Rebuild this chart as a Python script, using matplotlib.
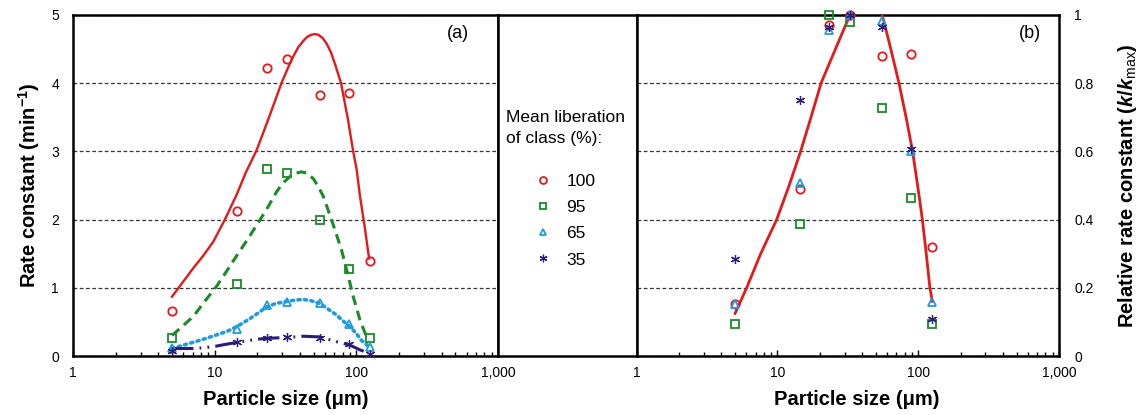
import matplotlib
matplotlib.use("Agg")
import matplotlib.pyplot as plt
import numpy as np
from matplotlib.lines import Line2D
from matplotlib.ticker import FixedLocator, FuncFormatter, LogLocator, NullFormatter

plt.rcParams["font.family"] = ["Liberation Sans", "DejaVu Sans"]
plt.rcParams["mathtext.fontset"] = "custom"
plt.rcParams["mathtext.rm"] = "Liberation Sans"
plt.rcParams["mathtext.it"] = "Liberation Sans:italic"
plt.rcParams["mathtext.bf"] = "Liberation Sans:bold"
try:
    plt.rcParams["mathtext.bfit"] = "Liberation Sans:italic:bold"
except KeyError:
    pass

# ---- measured flotation rate constants (min^-1) per size class ----
particle_size = [5.0, 14.4, 23.3, 32.6, 55.7, 89.0, 124.5]
liberation_classes = ["100", "95", "65", "35"]
k_100 = [0.665, 2.13, 4.23, 4.355, 3.83, 3.86, 1.39]
k_95 = [0.26, 1.06, 2.74, 2.68, 1.99, 1.27, 0.26]
k_65 = [0.12, 0.40, 0.755, 0.79, 0.775, 0.475, 0.125]
k_35 = [0.08, 0.21, 0.27, 0.28, 0.27, 0.17, 0.03]

# ---- fitted trend curves, panel (a) ----
fit100_x = [5, 7.07, 8.3, 9.8, 11.8, 14.4, 16.5, 19.8, 24, 29.6, 33, 35.8, 39, 42.2, 45,
            48, 51, 54, 58, 61.7, 66, 70.5, 78, 87.4, 95, 100.6, 106, 115, 123]
fit100_y = [0.87, 1.29, 1.47, 1.68, 2.0, 2.38, 2.68, 3.02, 3.48, 4.0, 4.23, 4.39, 4.53, 4.62,
            4.68, 4.71, 4.72, 4.71, 4.66, 4.58, 4.46, 4.29, 4.0, 3.46, 3.0, 2.73, 2.35, 1.87,
            1.43]
fit95_x = [5, 7.07, 8.5, 10.3, 12.2, 14.4, 17.2, 20.8, 24, 27.4, 30.5, 33.9, 37.5, 41, 45,
           49.7, 54, 58.5, 63, 67, 70.6, 78.7, 87.5, 95.1, 106, 118, 123]
fit95_y = [0.30, 0.58, 0.80, 1.02, 1.25, 1.48, 1.72, 1.99, 2.2, 2.41, 2.54, 2.63, 2.68, 2.70,
           2.68, 2.60, 2.48, 2.34, 2.15, 1.99, 1.85, 1.55, 1.18, 0.87, 0.53, 0.28, 0.23]
fit65_x = [5, 7.86, 10, 12.2, 14.3, 17.5, 20.9, 23.3, 27, 32.3, 37, 42.3, 48, 55.3, 63,
           72.6, 80, 90, 100, 108.7, 118, 124]
fit65_y = [0.11, 0.23, 0.30, 0.36, 0.43, 0.54, 0.65, 0.72, 0.77, 0.80, 0.82, 0.83, 0.81,
           0.77, 0.69, 0.60, 0.52, 0.43, 0.33, 0.23, 0.17, 0.11]
fit35_x = [5, 6.9, 8.3, 10, 11.2, 14.3, 19.8, 23.3, 32.3, 42.3, 55.3, 72.6, 90, 106, 124]
fit35_y = [0.11, 0.11, 0.12, 0.14, 0.16, 0.20, 0.245, 0.26, 0.27, 0.29, 0.28, 0.21, 0.16,
           0.09, 0.04]

# ---- fitted trend curve, panel (b) (k/kmax) ----
fit_rel_x = [5, 6.04, 7.6, 9.87, 12.1, 14.6, 17.3, 20.4, 25.8, 32.7, 38, 44, 50, 55.5,
             63, 73, 82, 91.2, 99, 107, 114, 121, 126]
fit_rel_y = [0.125, 0.2, 0.3, 0.4, 0.5, 0.6, 0.7, 0.8, 0.9, 1.0, 1.04, 1.05, 1.03, 1.0,
             0.91, 0.8, 0.7, 0.6, 0.5, 0.4, 0.3, 0.2, 0.16]

x_ticks = [1, 10, 100, 1000]
k_ticks = [0, 1, 2, 3, 4, 5]
rel_ticks = [0, 0.2, 0.4, 0.6, 0.8, 1.0]

RED = "#e3191c"
GREEN = "#1a8a2a"
BLUE = "#1f9ce0"
PURPLE = "#2b1c7a"
STAR = (6, 2, 0)

series = [
    (k_100, "o", RED, fit100_x, fit100_y, "-", 1.7),
    (k_95, "s", GREEN, fit95_x, fit95_y, (0, (3.2, 2.0)), 2.2),
    (k_65, "^", BLUE, fit65_x, fit65_y, (0, (0.6, 1.2)), 2.6),
    (k_35, STAR, PURPLE, fit35_x, fit35_y, (0, (7, 2, 0.6, 2, 0.6, 2)), 2.2),
]

W, H = 1140, 415
fig = plt.figure(figsize=(W / 100, H / 100), dpi=100)
x0, x1, xm, x2, x3 = 73, 498, 498, 636.7, 1059
yt, yb = 15, 356
ax_a = fig.add_axes([x0 / W, 1 - yb / H, (x1 - x0) / W, (yb - yt) / H])
ax_m = fig.add_axes([xm / W, 1 - yb / H, (x2 - xm) / W, (yb - yt) / H])
ax_b = fig.add_axes([x2 / W, 1 - yb / H, (x3 - x2) / W, (yb - yt) / H])

SPINE_W = 1.8
GRID_KW = dict(color="#333333", linestyle=(0, (3, 2)), linewidth=0.9)


def marker_kw(mk, col, size=6):
    return dict(linestyle="none", marker=mk, markersize=size + (0.5 if mk == STAR else 0),
                markerfacecolor="none", markeredgecolor=col,
                markeredgewidth=0.9 if mk == STAR else 1.3)


def style_xaxis(ax, label_x):
    ax.set_xscale("log")
    ax.set_xlim(1, 1000)
    ax.xaxis.set_major_locator(FixedLocator(x_ticks))
    ax.xaxis.set_minor_locator(LogLocator(base=10, subs=np.arange(2, 10)))
    ax.xaxis.set_minor_formatter(NullFormatter())
    ax.xaxis.set_major_formatter(FuncFormatter(lambda v, p: f"{v:,.0f}"))
    ax.tick_params(axis="x", which="major", direction="in", length=4, width=1,
                   labelsize=10, pad=7, top=False)
    ax.tick_params(axis="x", which="minor", direction="in", length=3, width=1, top=False)
    for s in ax.spines.values():
        s.set_linewidth(SPINE_W)
    ax.set_xlabel("Particle size (\u03bcm)", fontsize=14.5, fontweight="bold")
    ax.xaxis.set_label_coords(label_x, -0.1)


# ---- panel (a): absolute rate constants ----
for k, mk, col, fx, fy, ls, lw in series:
    ax_a.plot(fx, fy, color=col, linestyle=ls, linewidth=lw, zorder=3,
              dash_capstyle="round" if col == BLUE else "butt")
    ax_a.plot(particle_size, k, zorder=4, **marker_kw(mk, col))
style_xaxis(ax_a, 0.5)
ax_a.set_ylim(0, 5)
ax_a.yaxis.set_major_locator(FixedLocator(k_ticks))
ax_a.tick_params(axis="y", length=0, labelsize=10, pad=10)
ax_a.grid(axis="y", **GRID_KW)
ax_a.set_axisbelow(True)
ax_a.set_ylabel("Rate constant (min$^{\\mathbf{-1}}$)", fontsize=14.5, fontweight="bold")
ax_a.yaxis.set_label_coords(-0.074, 0.5)
ax_a.text(0.905, 0.947, "(a)", transform=ax_a.transAxes, fontsize=13,
          ha="center", va="center")

# ---- panel (b): rate constants relative to the class maximum ----
for k, mk, col, fx, fy, ls, lw in series:
    rel = np.asarray(k) / max(k)
    ax_b.plot(particle_size, rel, zorder=4, clip_on=False, **marker_kw(mk, col))
ax_b.plot(fit_rel_x, fit_rel_y, color=RED, linewidth=2.0, zorder=3)
style_xaxis(ax_b, 0.52)
ax_b.set_ylim(0, 1)
ax_b.yaxis.set_major_locator(FixedLocator(rel_ticks))
ax_b.yaxis.set_major_formatter(FuncFormatter(lambda v, p: f"{v:g}"))
ax_b.yaxis.tick_right()
ax_b.tick_params(axis="y", length=0, labelsize=10, pad=11, left=False)
ax_b.grid(axis="y", **GRID_KW)
ax_b.set_axisbelow(True)
ax_b.yaxis.set_label_position("right")
ax_b.set_ylabel("Relative rate constant ($\\mathbfit{k}$/$\\mathbfit{k}_{\\mathrm{max}}$)",
                fontsize=14.5, fontweight="bold", rotation=90)
ax_b.yaxis.set_label_coords(1.134, 0.5)
ax_b.text(0.93, 0.947, "(b)", transform=ax_b.transAxes, fontsize=13,
          ha="center", va="center")

# ---- middle box: legend ----
ax_m.set_xticks([])
ax_m.set_yticks([])
for s in ax_m.spines.values():
    s.set_linewidth(SPINE_W)
ax_m.text(0.058, 0.72, "Mean liberation\nof class (%):", transform=ax_m.transAxes,
          fontsize=12.5, ha="left", va="top", linespacing=1.5)
handles = [Line2D([], [], **marker_kw(mk, col, size=5)) for k, mk, col, *_ in series]
ax_m.legend(handles, liberation_classes, loc="upper left", bbox_to_anchor=(0.262, 0.535),
            frameon=False, fontsize=12.5, handlelength=1.0, handletextpad=0.85,
            labelspacing=0.64, borderpad=0, borderaxespad=0, numpoints=1)

fig.savefig("out.png", dpi=100)
